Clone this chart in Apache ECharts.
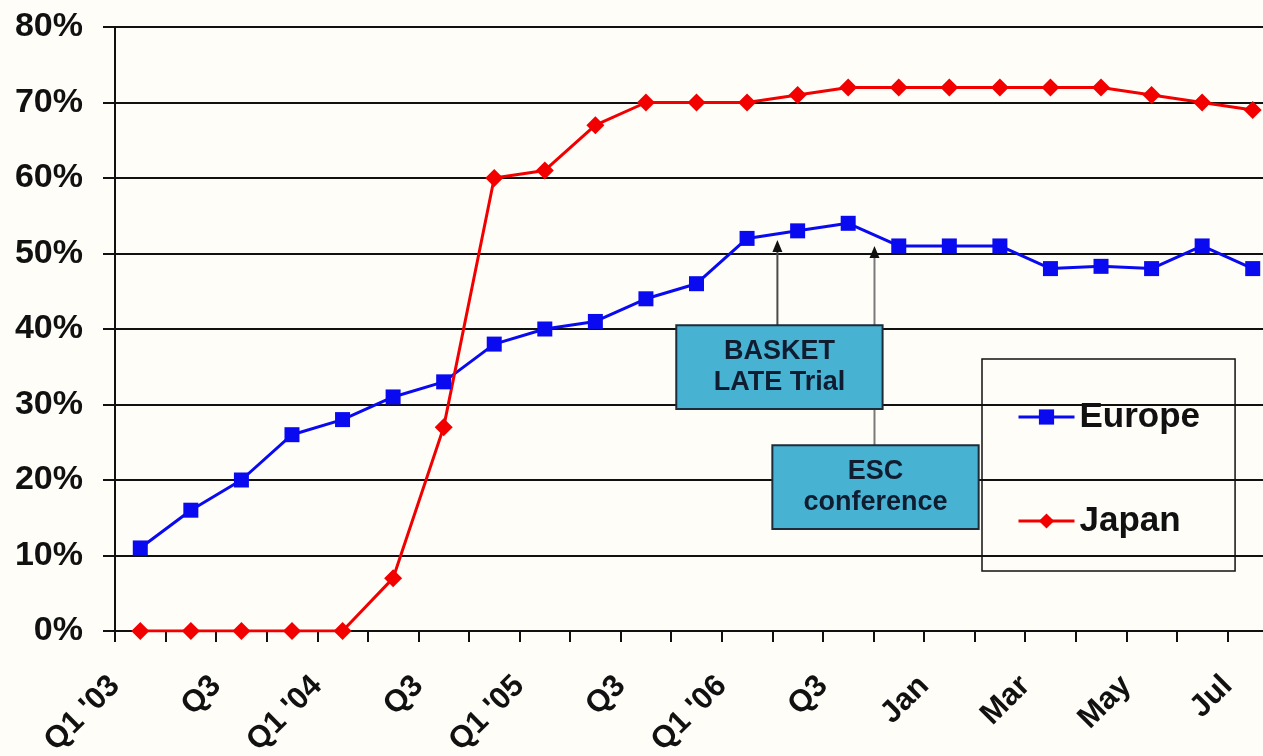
<!DOCTYPE html>
<html><head><meta charset="utf-8">
<script src="https://cdn.jsdelivr.net/npm/echarts@6/dist/echarts.min.js"></script>
<style>html,body{margin:0;padding:0;background:#FFFDF8}#c{width:1263px;height:756px}</style>
</head><body><div id="c"></div>
<script>
// ---- data ----
const periods = ["Q1 '03","Q2","Q3","Q4","Q1 '04","Q2","Q3","Q4","Q1 '05","Q2","Q3","Q4","Q1 '06","Q2","Q3","Q4","Jan","Feb","Mar","Apr","May","Jun","Jul"];
const europe = [11,16,20,26,28,31,33,38,40,41,44,46,52,53,54,51,51,51,48,48.3,48,51,48];
const japan  = [0,0,0,0,0,7,27,60,61,67,70,70,70,71,72,72,72,72,72,72,71,70,69];
const tickLabels = periods.concat(['']); // labels sit on the category boundaries
const seriesNames = ['Europe','Japan'];
// annotation anchors in data units (category index, percent)
const notes = [
  {text:'ESC\nconference', arrowX:14.52, tipY:51.0, box:[12.50, 24.6, 16.58, 13.5], lineColor:'#7a7a7a'},
  {text:'BASKET\nLATE Trial', arrowX:12.60, tipY:51.8, box:[10.60, 40.5, 14.68, 29.4], lineColor:'#4a4a4a'}
];

const FONT = '"Liberation Sans", Arial, sans-serif';
const chart = echarts.init(document.getElementById('c'), null, {renderer:'canvas'});
const option = {
  backgroundColor:'#FFFDF8',
  animation:false,
  grid:{left:115, right:-15, top:27, bottom:125, outerBoundsMode:'none'},
  legend:{
    orient:'vertical', left:982, top:359,
    padding:[38,35,30,35], itemGap:64, itemWidth:56, itemHeight:19,
    borderColor:'#111', borderWidth:1.5, backgroundColor:'transparent',
    lineStyle:{width:3},
    textStyle:{fontFamily:FONT, fontWeight:'bold', fontSize:35, color:'#111', lineHeight:40},
    data:seriesNames
  },
  xAxis:[
    {type:'category', data:periods, boundaryGap:true, position:'bottom',
     axisLine:{show:true, lineStyle:{color:'#111', width:2}},
     axisTick:{show:true, interval:0, length:11, lineStyle:{color:'#111', width:2}},
     axisLabel:{show:false}, splitLine:{show:false}},
    {type:'category', data:tickLabels, boundaryGap:false, position:'bottom',
     axisLine:{show:false}, axisTick:{show:false}, splitLine:{show:false},
     axisLabel:{show:true, interval:1, rotate:45, margin:50, hideOverlap:false,
       fontFamily:FONT, fontWeight:'bold', fontSize:31, color:'#111'}}
  ],
  yAxis:{type:'value', min:0, max:80, interval:10,
    axisLine:{show:true, lineStyle:{color:'#111', width:2}},
    axisTick:{show:true, length:12, lineStyle:{color:'#111', width:2}},
    splitLine:{show:true, lineStyle:{color:'#111', width:2}},
    axisLabel:{formatter:'{value}%', margin:32, fontFamily:FONT, fontWeight:'bold', fontSize:34, color:'#111'}
  },
  series:[
    {name:seriesNames[0], type:'line', data:europe, symbol:'rect', symbolSize:15,
     itemStyle:{color:'#0A0AF0'}, lineStyle:{color:'#0A0AF0', width:3}, z:3},
    {name:seriesNames[1], type:'line', data:japan, symbol:'diamond', symbolSize:18,
     itemStyle:{color:'#F20000'}, lineStyle:{color:'#F20000', width:3}, z:3}
  ]
};
chart.setOption(option);

function toPx(idx, val){
  const i0 = Math.floor(idx), f = idx - i0;
  const a = chart.convertToPixel({seriesIndex:0}, [i0, val]);
  const b = chart.convertToPixel({seriesIndex:0}, [i0+1, val]);
  return [a[0] + (b[0]-a[0])*f, a[1]];
}
const lines = [], boxes = [];
notes.forEach(n => {
  const tl = toPx(n.box[0], n.box[1]);
  const br = toPx(n.box[2], n.box[3]);
  const tip = toPx(n.arrowX, n.tipY);
  const base = toPx(n.arrowX, n.box[1]);
  lines.push({type:'line', shape:{x1:tip[0], y1:tip[1]+8, x2:base[0], y2:base[1]},
    style:{stroke:n.lineColor, lineWidth:2}, z:10});
  lines.push({type:'polygon', shape:{points:[[tip[0],tip[1]],[tip[0]-5,tip[1]+12],[tip[0]+5,tip[1]+12]]},
    style:{fill:'#111'}, z:10});
  boxes.push({type:'rect', shape:{x:tl[0], y:tl[1], width:br[0]-tl[0], height:br[1]-tl[1]},
    style:{fill:'#48B2D2', stroke:'#1E2B38', lineWidth:2}, z:11});
  boxes.push({type:'text', x:(tl[0]+br[0])/2, y:(tl[1]+br[1])/2,
    style:{text:n.text, fill:'#101C30', font:'bold 27px ' + FONT, align:'center', verticalAlign:'middle', lineHeight:31}, z:12});
});
chart.setOption({graphic:lines.concat(boxes)});
</script></body></html>
